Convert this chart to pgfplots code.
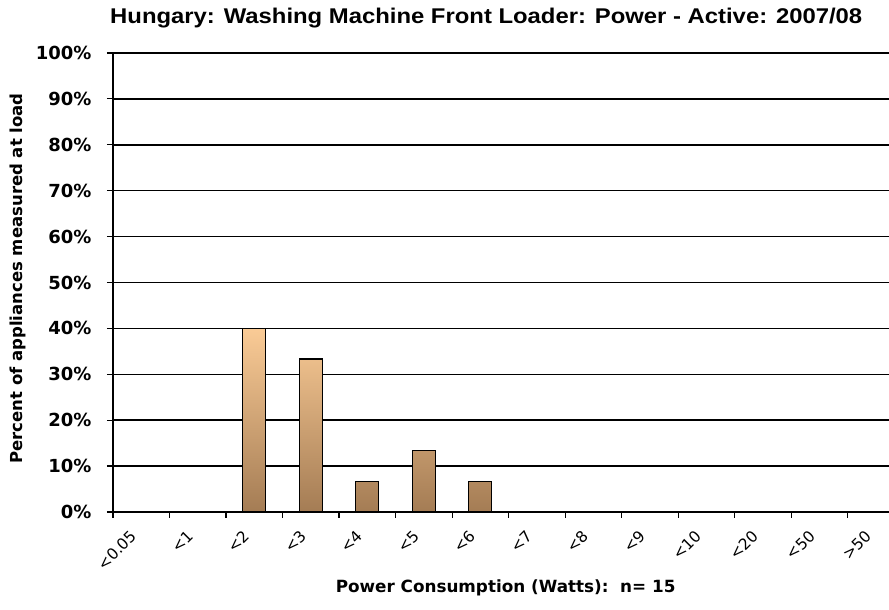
\documentclass[border=0pt]{standalone}
\usepackage{fontspec}
\setmainfont{DejaVu Sans}
\newfontfamily\titlefont[FakeStretch=1.12]{Liberation Sans}
\usepackage{pgfplots}
\pgfplotsset{compat=1.18}

\definecolor{bartop}{RGB}{250,203,150}
\definecolor{barbot}{RGB}{164,124,84}

\begin{document}
\begin{tikzpicture}
\begin{axis}[
  scale only axis, width=776pt, height=459pt,
  xmin=-0.5, xmax=13.23, ymin=0, ymax=100,
  axis x line=bottom, axis y line=left,
  axis line style={line width=1.6pt, -},
  xtick={0,1,2,3,4,5,6,7,8,9,10,11,12,13},
  xticklabels={<0.05,<1,<2,<3,<4,<5,<6,<7,<8,<9,<10,<20,<50,>50},
  minor xtick={-0.5,0.5,...,12.5},
  xticklabel style={font=\fontsize{15.5}{15.5}\selectfont, xshift=-5pt, yshift=-19pt, rotate=45, anchor=east},
  ytick={0,10,...,100},
  minor ytick={0,10,...,100},
  yticklabel={\pgfmathprintnumber{\tick}\%},
  yticklabel style={font=\bfseries\fontsize{18}{18}\selectfont, xshift=-18pt},
  /pgf/number format/assume math mode=true,
  major tick length=0pt,
  minor tick length=6pt,
  tick align=outside,
  tick style={black, line width=1.2pt},
  ymajorgrids, grid style={black, line width=1.5pt},
  title={Hungary: Washing Machine Front Loader: Power - Active: 2007/08},
  title style={font=\titlefont\bfseries\fontsize{21.3}{21.3}\selectfont, at={(axis description cs:0.481,1)}, anchor=center, yshift=29pt},
  xlabel={Power Consumption (Watts):\ \ n= 15},
  every axis x label/.style={font=\bfseries\fontsize{16.8}{16.8}\selectfont, at={(axis description cs:0.506,0)}, anchor=center, yshift=-76pt},
  ylabel={Percent of appliances measured at load},
  every axis y label/.style={font=\bfseries\fontsize{16.5}{16.5}\selectfont, at={(axis description cs:0,0.5)}, xshift=-95pt, yshift=4pt, rotate=90, anchor=center},
]
\addplot[ybar, bar width=23pt, draw=black, line width=1.2pt, top color=bartop, bottom color=barbot]
  coordinates {(2,40) (3,33.33) (4,6.67) (5,13.33) (6,6.67)};
\coordinate (sw) at (rel axis cs:0,0);
\end{axis}
\pgfresetboundingbox
\path[use as bounding box] ([shift={(-113pt,-98pt)}]sw) rectangle ([shift={(776pt,512pt)}]sw);
\end{tikzpicture}
\end{document}
